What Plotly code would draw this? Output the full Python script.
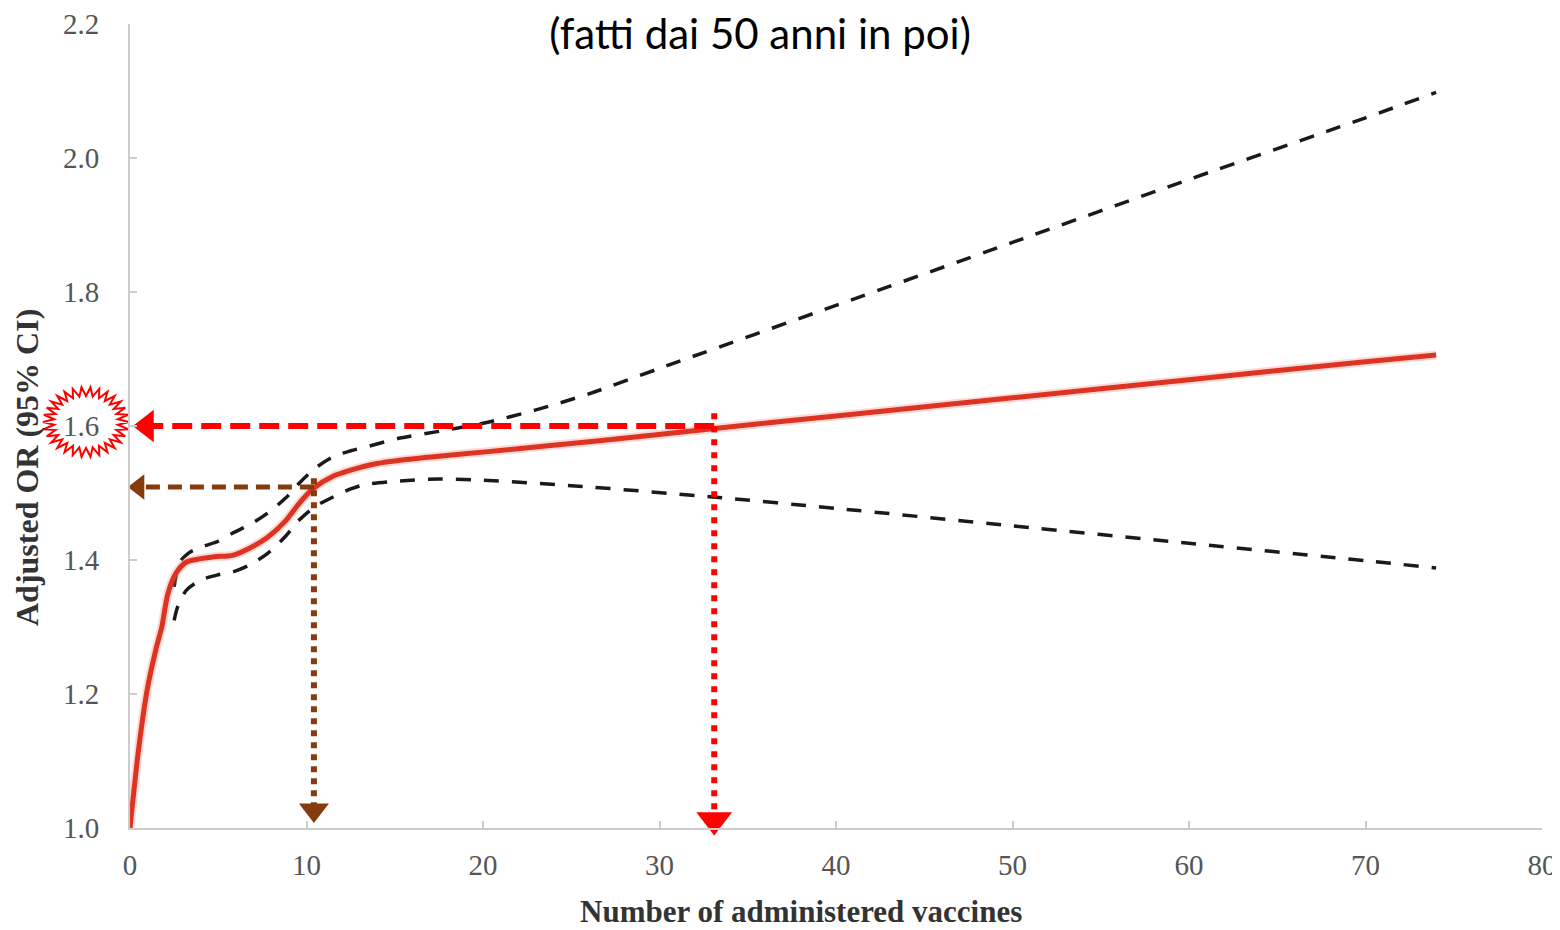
import numpy as np
import plotly.graph_objects as go

# ---------------- data ----------------
x_main = [0, 0.5, 1.0, 1.5, 1.8, 2.15, 2.6, 3.2, 4.0, 4.8, 5.8, 6.8, 7.8, 8.8, 9.6,
          10.4, 11.5, 12.5, 14.0, 15.3, 17.5, 20, 26.6, 33, 40, 50, 60, 70, 74]
y_main = [1.0, 1.12, 1.21, 1.27, 1.30, 1.35, 1.38, 1.397, 1.402, 1.405, 1.407, 1.418,
          1.434, 1.458, 1.485, 1.507, 1.525, 1.534, 1.544, 1.549, 1.555, 1.561, 1.578, 1.596,
          1.615, 1.642, 1.669, 1.696, 1.706]

x_upper = [2.5, 2.8, 3.3, 4.0, 5.0, 5.8, 6.8, 7.8, 8.8, 9.6, 10.5, 11.5, 12.5, 13.4, 15.3,
           17.5, 20, 23, 26, 30, 40, 50, 60, 70, 74]
y_upper = [1.36, 1.396, 1.41, 1.419, 1.428, 1.44, 1.453, 1.47, 1.492, 1.515, 1.537, 1.554,
           1.563, 1.569, 1.582, 1.592, 1.604, 1.624, 1.648, 1.686, 1.780, 1.874, 1.968, 2.060, 2.098]

x_lower = [2.5, 2.7, 3.2, 4.0, 5.0, 5.8, 6.8, 7.8, 8.8, 9.6, 10.5, 11.5, 12.5, 13.4, 15.3,
           17.5, 20, 25, 33, 40, 50, 60, 70, 74]
y_lower = [1.31, 1.33, 1.355, 1.37, 1.378, 1.382, 1.393, 1.41, 1.435, 1.46, 1.48, 1.494,
           1.506, 1.513, 1.518, 1.521, 1.519, 1.511, 1.494, 1.477, 1.451, 1.425, 1.399, 1.388]

x_ticks = [0, 10, 20, 30, 40, 50, 60, 70, 80]
y_ticks = [1.0, 1.2, 1.4, 1.6, 1.8, 2.0, 2.2]

# reading guides (annotation arrows)
red_guide_x = 33.1
red_guide_y = 1.6
brown_guide_x = 10.42
brown_guide_y = 1.509

RED = "#FF0000"
BROWN = "#843C0C"
CURVE = "#DD3322"

fig = go.Figure()

# CI dashed lines
dash_black = dict(color="#1a1a1a", width=3.5, dash="15px,13px")
fig.add_trace(go.Scatter(x=x_upper, y=y_upper, mode="lines",
                         line=dict(shape="spline", smoothing=0.8, **dash_black), hoverinfo="skip"))
fig.add_trace(go.Scatter(x=x_lower, y=y_lower, mode="lines",
                         line=dict(shape="spline", smoothing=0.8, **dash_black), hoverinfo="skip"))

# main curve with soft halo
fig.add_trace(go.Scatter(x=x_main, y=y_main, mode="lines",
                         line=dict(color="rgba(240,120,100,0.28)", width=9, shape="spline", smoothing=0.8),
                         hoverinfo="skip"))
fig.add_trace(go.Scatter(x=x_main, y=y_main, mode="lines",
                         line=dict(color=CURVE, width=5, shape="spline", smoothing=0.8)))

# red guide: horizontal dashed and vertical dotted with arrowheads
fig.add_trace(go.Scatter(x=[red_guide_x, 1.3], y=[red_guide_y, red_guide_y], mode="lines",
                         line=dict(color=RED, width=6, dash="20px,9px"), cliponaxis=False))
fig.add_trace(go.Scatter(x=[red_guide_x, red_guide_x], y=[red_guide_y + 0.019, 1.025], mode="lines",
                         line=dict(color=RED, width=6, dash="6px,7px"), cliponaxis=False))
fig.add_trace(go.Scatter(x=[0.95], y=[red_guide_y], mode="markers",
                         marker=dict(symbol="triangle-left", size=28, color=RED), cliponaxis=False))
fig.add_trace(go.Scatter(x=[red_guide_x], y=[1.012], mode="markers",
                         marker=dict(symbol="triangle-down", size=31, color=RED), cliponaxis=False))

# brown guide
fig.add_trace(go.Scatter(x=[brown_guide_x, 0.9], y=[brown_guide_y, brown_guide_y], mode="lines",
                         line=dict(color=BROWN, width=5, dash="14px,8px"), cliponaxis=False))
fig.add_trace(go.Scatter(x=[brown_guide_x, brown_guide_x], y=[brown_guide_y + 0.013, 1.035], mode="lines",
                         line=dict(color=BROWN, width=6, dash="6px,6px"), cliponaxis=False))
fig.add_trace(go.Scatter(x=[0.5], y=[brown_guide_y], mode="markers",
                         marker=dict(symbol="triangle-left", size=22, color=BROWN), cliponaxis=False))
fig.add_trace(go.Scatter(x=[brown_guide_x], y=[1.027], mode="markers",
                         marker=dict(symbol="triangle-down", size=26, color=BROWN), cliponaxis=False))

# ---------------- layout ----------------
# page body has an 8px margin, so the figure is sized to fit the window
W, H = 1552, 922
ML, MR, MT, MB = 122, 18, 16, 102
PW, PH = W - ML - MR, H - MT - MB
X_RANGE = [0, 80]
Y_RANGE = [1.0, 2.2]

# starburst around the "1.6" tick label (paper coords)
cx = -44 / PW
cy = (red_guide_y - Y_RANGE[0]) / (Y_RANGE[1] - Y_RANGE[0]) + 4 / PH
n_spikes = 30
pts = []
for k in range(2 * n_spikes):
    a = np.pi * k / n_spikes
    rx, ry = (43, 35) if k % 2 == 0 else (32, 26)
    pts.append((cx + rx * np.cos(a) / PW, cy + ry * np.sin(a) / PH))
path = "M " + " L ".join(f"{px:.5f},{py:.5f}" for px, py in pts) + " Z"

title_font = dict(family="Liberation Serif", size=31, color="#333333")

fig.update_layout(
    template="none",
    width=W, height=H,
    margin=dict(l=ML, r=MR, t=MT, b=MB),
    paper_bgcolor="white", plot_bgcolor="white",
    showlegend=False,
    title=dict(text="(fatti dai 50 anni in poi)", x=752 / W, xref="container", xanchor="center",
               y=1 - 26 / H, yref="container", yanchor="middle",
               font=dict(family="Lato", size=42, color="black")),
    shapes=[dict(type="path", path=path, xref="paper", yref="paper", layer="below",
                 line=dict(color=RED, width=2), fillcolor="white")],
    annotations=[
        dict(text="<b>Number of administered vaccines</b>", xref="paper", yref="paper",
             x=671 / PW, y=-83 / PH, xanchor="center", yanchor="middle",
             showarrow=False, font=title_font),
        dict(text="<b>Adjusted OR (95% CI)</b>", xref="paper", yref="paper",
             x=-103 / PW, y=360 / PH, xanchor="center", yanchor="middle", textangle=-90,
             showarrow=False, font=dict(family="Liberation Serif", size=32, color="#333333")),
    ],
)

tick_font = dict(family="Liberation Serif", size=29, color="#555555")

fig.update_xaxes(range=X_RANGE, tickvals=x_ticks, ticktext=[str(v) for v in x_ticks],
                 automargin=False,
                 showgrid=False, zeroline=False, showline=True, linecolor="#cccccc", linewidth=2,
                 ticks="inside", ticklen=7, tickcolor="#cccccc", tickwidth=1.5,
                 tickfont=tick_font, ticklabelstandoff=10)
fig.update_yaxes(range=Y_RANGE, tickvals=y_ticks, ticktext=[f"{v:.1f}" for v in y_ticks],
                 automargin=False,
                 showgrid=False, zeroline=False, showline=True, linecolor="#cccccc", linewidth=2,
                 ticks="inside", ticklen=7, tickcolor="#cccccc", tickwidth=1.5,
                 tickfont=tick_font, ticklabelstandoff=23)

fig.write_html("out.html")
